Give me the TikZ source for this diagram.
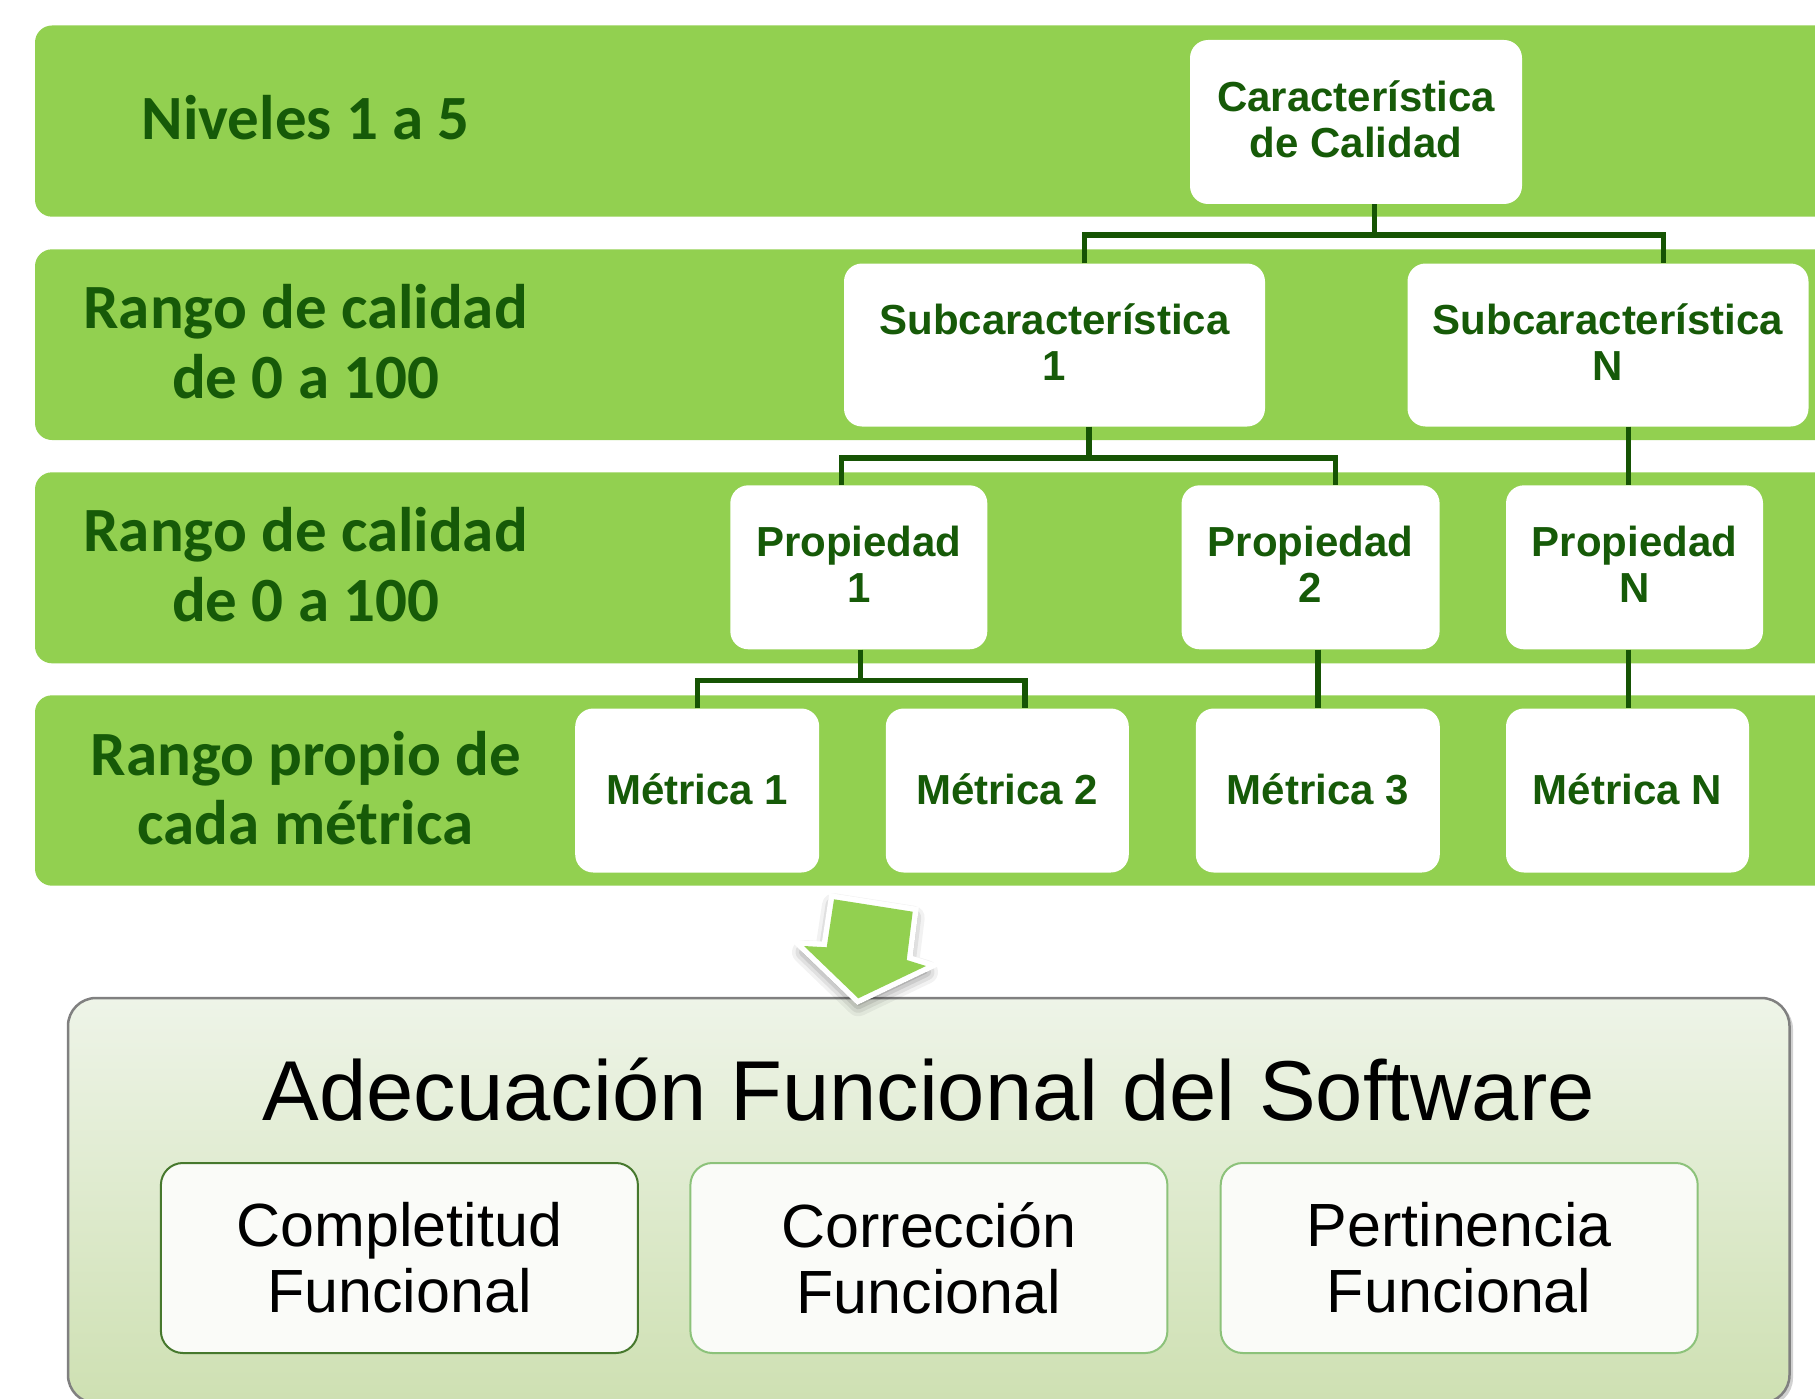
\documentclass[tikz,border=0pt]{standalone}
\usepackage{fontspec}
\setmainfont{Liberation Sans}
\newfontfamily\carlito{Carlito}
\usetikzlibrary{calc}
\definecolor{bandgreen}{RGB}{146,208,80}
\definecolor{dkgreen}{RGB}{22,90,8}
\definecolor{connc}{RGB}{22,84,4}
\definecolor{boxtop}{RGB}{238,244,232}
\definecolor{boxbot}{RGB}{206,224,178}
\definecolor{subfill}{RGB}{250,251,248}
\definecolor{subdark}{RGB}{70,120,45}
\definecolor{sublight}{RGB}{140,194,122}
\begin{document}
\begin{tikzpicture}[x=1pt,y=-1pt,
  band/.style={fill=bandgreen, rounded corners=17pt},
  wbox/.style={fill=white, rounded corners=18pt, align=center, text=dkgreen, inner sep=0pt,
    text depth=6pt, font=\bfseries\fontsize{42}{46}\selectfont},
  lvl/.style={align=center, text=dkgreen, inner sep=0pt, font=\carlito\bfseries\fontsize{63}{69.5}\selectfont},
  conn/.style={draw=connc, line width=5.3pt},
  subbox/.style={fill=subfill, rounded corners=22pt, align=center, line width=2pt,
    minimum width=477pt, minimum height=190pt, inner sep=0pt, font=\fontsize{61}{66}\selectfont},
  arrowshape/.style={insert path={(834,899.3) -- (912.7,911.7) -- (906.7,960) -- (926,966) -- (858.3,998.3) -- (804,946) -- (826.7,947.3) -- cycle}}
]
\useasboundingbox (0,0) rectangle (1815,1399);
\clip (0,0) rectangle (1815,1399);
\fill[white] (0,0) rectangle (1815,1399);

% bands
\fill[band] (35,25.5) rectangle (1900,216.7);
\fill[band] (35,249.3) rectangle (1900,440);
\fill[band] (35,472.3) rectangle (1900,663.3);
\fill[band] (35,695.3) rectangle (1900,885.7);

% level labels
\node[lvl] (l1) at (305.6,118) {Niveles 1 a 5};
\node[lvl] (l2) at (305.6,341.5) {Rango de calidad\\de 0 a 100};
\node[lvl] (l3) at (305.6,564.5) {Rango de calidad\\de 0 a 100};
\node[lvl] (l4) at (305.6,788) {Rango propio de\\cada métrica};

% white boxes
\node[wbox, minimum width=332pt, minimum height=164pt] (car) at (1356,122) {Característica\\de Calidad};
\node[wbox, minimum width=421pt, minimum height=163pt] (sub1) at (1054.5,345) {Subcaracterística\\1};
\node[wbox, minimum width=401pt, minimum height=163pt] (subN) at (1608,345) {Subcaracterística\\N};
\node[wbox, minimum width=257pt, minimum height=164pt] (prop1) at (858.8,567.3) {Propiedad\\1};
\node[wbox, minimum width=258pt, minimum height=164pt] (prop2) at (1310.6,567.3) {Propiedad\\2};
\node[wbox, minimum width=257pt, minimum height=164pt] (propN) at (1634.5,567.3) {Propiedad\\N};
\node[wbox, minimum width=244pt, minimum height=164pt, text depth=3pt] (met1) at (697.2,790.5) {Métrica 1};
\node[wbox, minimum width=243pt, minimum height=164pt, text depth=3pt] (met2) at (1007.3,790.5) {Métrica 2};
\node[wbox, minimum width=244pt, minimum height=164pt, text depth=3pt] (met3) at (1317.8,790.5) {Métrica 3};
\node[wbox, minimum width=243pt, minimum height=164pt, text depth=3pt] (metN) at (1627.5,790.5) {Métrica N};

% connectors
\coordinate (j1) at (1374.3,235);
\coordinate (s1c) at (1084.6,235);
\coordinate (sNc) at (1663.5,235);
\draw[conn] (car.south -| j1) -- (j1);
\draw[conn] (sub1.north -| s1c) -- (s1c) -- (sNc) -- (subN.north -| sNc);

\coordinate (j2) at (1089,458);
\coordinate (p1c) at (841.5,458);
\coordinate (p2c) at (1335.5,458);
\draw[conn] (sub1.south -| j2) -- (j2);
\draw[conn] (prop1.north -| p1c) -- (p1c) -- (p2c) -- (prop2.north -| p2c);
\coordinate (jN) at (1628.6,458);
\draw[conn] (subN.south -| jN) -- (propN.north -| jN);

\coordinate (j3) at (860.8,680.6);
\coordinate (m1c) at (697.3,680.6);
\coordinate (m2c) at (1025,680.6);
\draw[conn] (prop1.south -| j3) -- (j3);
\draw[conn] (met1.north -| m1c) -- (m1c) -- (m2c) -- (met2.north -| m2c);
\coordinate (k3) at (1318,680.6);
\draw[conn] (prop2.south -| k3) -- (met3.north -| k3);
\coordinate (kN) at (1628.6,680.6);
\draw[conn] (propN.south -| kN) -- (metN.north -| kN);

% big box
\fill[black, opacity=0.18, rounded corners=28pt] (71,1001) rectangle (1793,1406);
\draw[draw=black!50, line width=2.5pt, top color=boxtop, bottom color=boxbot, rounded corners=28pt]
  (68,998) rectangle (1789.5,1403);
\node[anchor=base, inner sep=0pt, font=\fontsize{85}{90}\selectfont] (title) at (928.7,1120.5)
  {Adecuación Funcional del Software};
\node[subbox, draw=subdark] (comp) at (399.4,1258) {Completitud\\Funcional};
\node[subbox, draw=sublight] (corr) at (928.9,1258) {Corrección\\Funcional};
\node[subbox, draw=sublight] (pert) at (1459.2,1258) {Pertinencia\\Funcional};

% arrow with shadow
\begin{scope}[shift={(0,6)}]
  \foreach \w/\o in {24/0.05,17/0.07,10/0.09,3/0.12}{
    \filldraw[black, opacity=\o, line width=\w pt, line join=round, arrowshape];
  }
\end{scope}
\draw[white, line width=11pt, line join=miter, arrowshape];
\fill[bandgreen, arrowshape];
\end{tikzpicture}
\end{document}
